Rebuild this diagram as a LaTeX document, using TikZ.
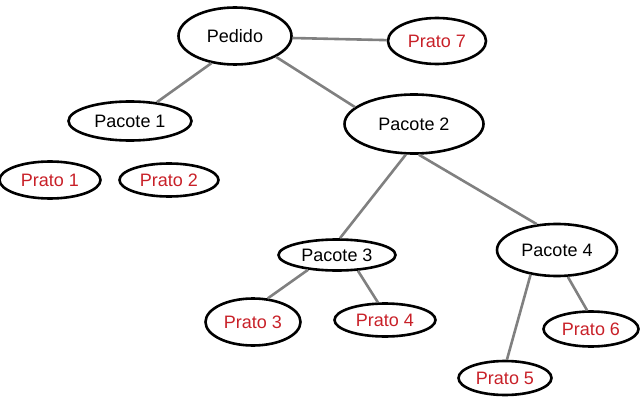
\documentclass[tikz,border=0pt]{standalone}
\usepackage{fontspec}
\setmainfont{Liberation Sans}
\usetikzlibrary{shapes.geometric}
\definecolor{txtred}{RGB}{200,32,40}
\definecolor{linegray}{RGB}{128,128,128}
\tikzset{
  el/.style={ellipse, draw=black, line width=2.6pt, inner sep=0pt, font=\fontsize{18}{20}\selectfont},
  pac/.style={el, text=black},
  pra/.style={el, text=txtred},
  conn/.style={draw=linegray, line width=2.6pt}
}
\begin{document}
\begin{tikzpicture}[x=1pt,y=-1pt]
\useasboundingbox (0,0) rectangle (640,409);
\node[pac, minimum width=113pt, minimum height=57pt] (ped) at (235,36) {Pedido};
\node[pra, minimum width=98pt, minimum height=46pt] (p7) at (437,41) {Prato 7};
\node[pac, minimum width=123pt, minimum height=39pt] (pc1) at (130,121) {Pacote 1};
\node[pac, minimum width=139pt, minimum height=59pt] (pc2) at (414,124) {Pacote 2};
\node[pra, minimum width=101pt, minimum height=37pt] (p1) at (50,180) {Prato 1};
\node[pra, minimum width=99pt, minimum height=33pt] (p2) at (169,180) {Prato 2};
\node[pac, minimum width=117pt, minimum height=31pt] (pc3) at (337,255) {Pacote 3};
\node[pac, minimum width=120pt, minimum height=52pt] (pc4) at (557,250) {Pacote 4};
\node[pra, minimum width=95pt, minimum height=47pt] (p3) at (253,322) {Prato 3};
\node[pra, minimum width=101pt, minimum height=33pt] (p4) at (385,320) {Prato 4};
\node[pra, minimum width=93pt, minimum height=34pt] (p5) at (505,378) {Prato 5};
\node[pra, minimum width=95pt, minimum height=35pt] (p6) at (591,329) {Prato 6};
\draw[conn] (ped.-2) -- (p7.179);
\draw[conn] (ped.229) -- (pc1.35);
\draw[conn] (ped.-27) -- (pc2.164);
\draw[conn] (pc2.255) -- (pc3.80);
\draw[conn] (pc2.279) -- (pc4.128);
\draw[conn] (pc3.207) -- (p3.58);
\draw[conn] (pc3.323) -- (p4.112);
\draw[conn] (pc4.223) -- (p5.84);
\draw[conn] (pc4.292) -- (p6.102);
\end{tikzpicture}
\end{document}
